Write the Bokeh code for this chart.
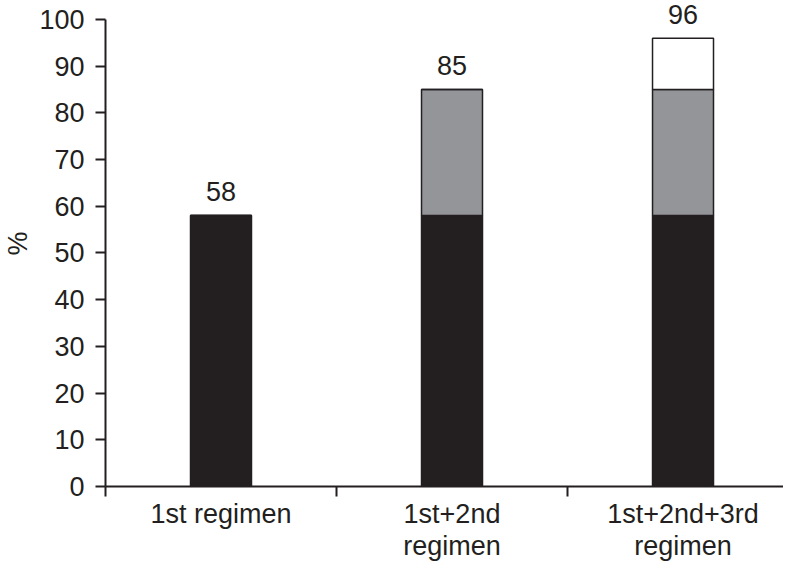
from bokeh.plotting import figure
from bokeh.models import Range1d, FixedTicker, ColumnDataSource
from bokeh.embed import file_html
from bokeh.resources import INLINE
from bokeh.core.properties import value

# ---- data ----
categories = ["1st regimen", "1st+2nd\nregimen", "1st+2nd+3rd\nregimen"]
first = [58, 58, 58]
second = [0, 27, 27]
third = [0, 0, 11]
totals = [58, 85, 96]
y_ticks = [0, 10, 20, 30, 40, 50, 60, 70, 80, 90, 100]

FONT = "Liberation Sans"
INK = "#231f20"

x = [i + 0.5 for i in range(len(categories))]
bounds = [float(i) for i in range(len(categories) + 1)]
src = ColumnDataSource(dict(x=x, first=first, second=second, third=third,
                            total=totals, label=[str(t) for t in totals]))

p = figure(width=783, height=563, x_range=Range1d(0, 2.935), y_range=Range1d(0, 104.06),
           output_backend="svg", toolbar_location=None,
           min_border_left=105, min_border_right=0, min_border_top=0, min_border_bottom=76)
p.outline_line_color = None
p.xgrid.visible = False
p.ygrid.visible = False
p.background_fill_color = "white"
p.border_fill_color = "white"

p.vbar_stack(["first", "second", "third"], x="x", width=0.264, source=src,
             fill_color=[INK, "#939598", "#ffffff"], line_color=INK, line_width=1.5)

p.text(x="x", y="total", text="label", source=src, text_align="center",
       text_baseline="alphabetic", y_offset=-24, text_font=value(FONT),
       text_font_size="27px", text_color=INK)

# y axis
ya = p.yaxis[0]
ya.ticker = FixedTicker(ticks=y_ticks, minor_ticks=[])
ya.bounds = (0, 100)
ya.axis_label = "%"
ya.axis_label_text_font = FONT
ya.axis_label_text_font_style = "normal"
ya.axis_label_text_font_size = "27px"
ya.axis_label_text_color = INK
ya.axis_label_standoff = 3
ya.major_label_text_font = FONT
ya.major_label_text_font_size = "27px"
ya.major_label_text_color = INK
ya.major_label_standoff = 11
ya.major_tick_out = 10
ya.major_tick_in = 0
ya.major_tick_line_color = INK
ya.major_tick_line_width = 2
ya.axis_line_color = INK
ya.axis_line_width = 2

# x axis
xa = p.xaxis[0]
xa.ticker = FixedTicker(ticks=x, minor_ticks=bounds)
xa.major_label_overrides = {xi: c for xi, c in zip(x, categories)}
xa.major_tick_line_color = None
xa.major_tick_out = 10
xa.major_tick_in = 0
xa.minor_tick_out = 10
xa.minor_tick_in = 0
xa.minor_tick_line_color = INK
xa.minor_tick_line_width = 2
xa.axis_line_color = INK
xa.axis_line_width = 2
xa.major_label_text_font = FONT
xa.major_label_text_font_size = "27px"
xa.major_label_text_color = INK
xa.major_label_text_line_height = 1.07
xa.major_label_standoff = 2

open("out.html", "w").write(file_html(p, INLINE))
